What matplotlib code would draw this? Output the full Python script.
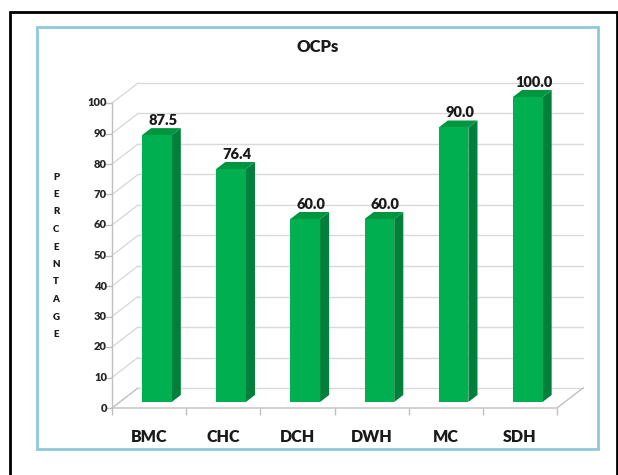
import matplotlib.pyplot as plt
from matplotlib.patches import Polygon, Rectangle
from matplotlib.lines import Line2D
import matplotlib.transforms as mtransforms

categories = ['BMC', 'CHC', 'DCH', 'DWH', 'MC', 'SDH']
values = [87.5, 76.4, 60.0, 60.0, 90.0, 100.0]
yticks = [0, 10, 20, 30, 40, 50, 60, 70, 80, 90, 100]
ylabel = 'PERCENTAGE'
title = 'OCPs'

W, H = 618, 475
plt.rcParams['font.family'] = ['Lato', 'DejaVu Sans']
fig = plt.figure(figsize=(W / 100, H / 100), dpi=100)

# frames (pixel coords)
def px(x, y):
    return x / W, 1 - y / H

bg = fig.add_axes([0, 0, 1, 1])
bg.set_xlim(0, W)
bg.set_ylim(H, 0)
bg.axis('off')
bg.plot([10, 10, 617, 617], [480, 12, 12, 480], color='black', lw=2, solid_joinstyle='miter')
bg.add_patch(Rectangle((37, 27), 561, 422, fill=False, ec='#8DC9DA', lw=2))

# front plane of the plot: category 0..6 horizontally, 0..100 vertically
x0, x1, y0, y100 = 112, 557, 408, 103
ax = fig.add_axes([x0 / W, (H - y0) / H, (x1 - x0) / W, (y0 - y100) / H])
n = len(categories)
ax.set_xlim(0, n)
ax.set_ylim(0, 100)
ax.axis('off')

# depth offset of the back wall, in data units
DX = 26 / ((x1 - x0) / n)
DY = 20 / ((y0 - y100) / 100)

def proj(x, y, z):
    return x + z * DX, y + z * DY

grid_c = '#D9D9D9'
axis_c = '#BFBFBF'
for v in yticks:
    bx0, by = proj(0, v, 1)
    bx1, _ = proj(n, v, 1)
    ax.add_line(Line2D([0, bx0], [v, by], color=grid_c if v else axis_c, lw=1, clip_on=False, zorder=1))
    ax.add_line(Line2D([bx0, bx1], [by, by], color=grid_c, lw=1, clip_on=False, zorder=1))
# floor
fx, fy = proj(n, 0, 1)
ax.add_line(Line2D([0, n, fx], [0, 0, fy], color=axis_c, lw=1, clip_on=False, zorder=1))
ax.add_line(Line2D([0, 0], [0, 100], color=axis_c, lw=1, clip_on=False, zorder=1))

tick_off = mtransforms.offset_copy(ax.transData, fig=fig, x=-5, y=0, units='dots')
for v in yticks:
    ax.plot([0], [v], marker=0, ms=5, color=axis_c, mew=1, clip_on=False, zorder=1)
    ax.text(0, v, str(v), transform=tick_off, ha='right', va='center',
            fontsize=8, fontweight='heavy', color='#262626')
for i in range(n + 1):
    ax.plot([i], [0], marker=3, ms=5, color=axis_c, mew=1, clip_on=False, zorder=1)

# 3d bars
z0, z1 = 0.3, 0.65
bw = 0.4
front_c, side_c, top_c = '#00B050', '#00803A', '#00953F'
for i, (cat, v) in enumerate(zip(categories, values)):
    l = i + 0.5 - bw / 2
    r = i + 0.5 + bw / 2
    front = [proj(l, 0, z0), proj(r, 0, z0), proj(r, v, z0), proj(l, v, z0)]
    side = [proj(r, 0, z0), proj(r, 0, z1), proj(r, v, z1), proj(r, v, z0)]
    top = [proj(l, v, z0), proj(r, v, z0), proj(r, v, z1), proj(l, v, z1)]
    for pts, c in ((side, side_c), (top, top_c), (front, front_c)):
        ax.add_patch(Polygon(pts, closed=True, fc=c, ec='none', clip_on=False, zorder=3))
    lx, ly = proj(i + 0.5, v, z1)
    ax.text(lx - DX * (z1 - z0) / 2 + 0.02, ly + 0.4, f'{v:.1f}', ha='center', va='bottom',
            fontsize=10.5, fontweight='heavy', color='#1a1a1a', zorder=4)
    ax.text(i + 0.5, -9.6, cat, ha='center', va='center', fontsize=11.5,
            fontweight='heavy', color='#1a1a1a')

fig.text(*px(318, 47), title, ha='center', va='center', fontsize=12,
         fontweight='heavy', color='#1a1a1a')
for k, ch in enumerate(ylabel):
    fig.text(*px(56, 177 + k * 17.5), ch, ha='center', va='center', fontsize=7,
             fontweight='heavy', color='#1a1a1a')

fig.savefig('out.png', dpi=100)
